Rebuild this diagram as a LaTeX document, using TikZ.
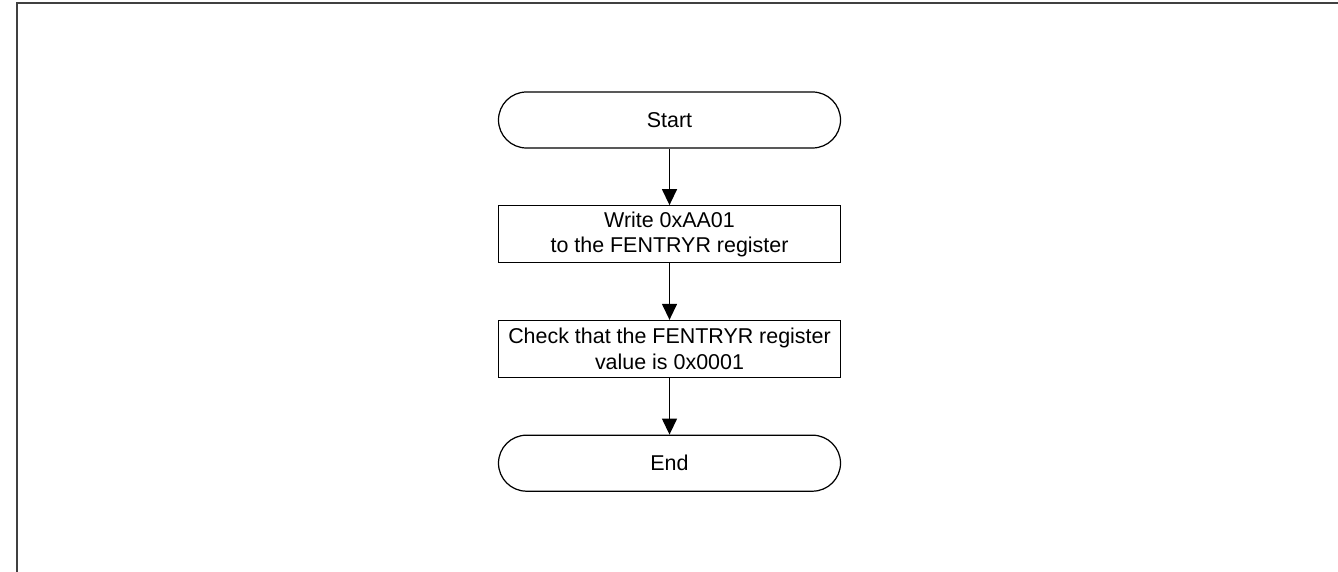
\documentclass[tikz,border=0pt]{standalone}
\usepackage{fontspec}
\setmainfont{Liberation Sans}
\usetikzlibrary{positioning,arrows.meta}
\begin{document}
\begin{tikzpicture}[
  box/.style={draw, line width=0.7pt, align=center, font=\fontsize{12.2}{14.4}\selectfont,
              minimum width=6.84cm, minimum height=1.14cm, inner sep=0pt},
  term/.style={box, rounded corners=0.56cm, minimum height=1.12cm},
  >={Triangle[width=0.3cm,length=0.32cm]}, node distance=1.13cm]
\useasboundingbox (0,0) rectangle (26.76,-11.44);
\draw[line width=1.1pt, black!75] (26.76,-0.06) -- (0.34,-0.06) -- (0.34,-11.44);
\node[term] (start) at (13.39,-2.4) {Start};
\node[box, below=of start] (write) {Write 0xAA01\\to the FENTRYR register};
\node[box, below=of write] (check) {Check that the FENTRYR register\\value is 0x0001};
\node[term, below=of check] (stop) {End};
\draw[->, line width=0.8pt] (start) -- (write); \draw[->, line width=0.8pt] (write) -- (check); \draw[->, line width=0.8pt] (check) -- (stop);
\end{tikzpicture}
\end{document}
